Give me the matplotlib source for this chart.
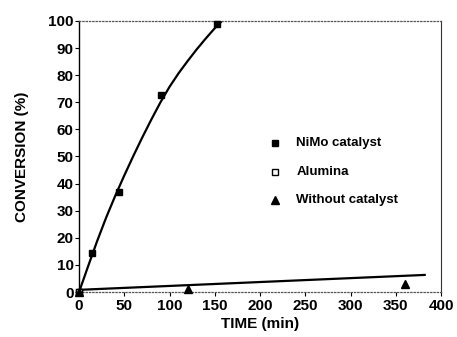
import matplotlib.pyplot as plt

plt.rcParams['font.family'] = ['Liberation Sans', 'DejaVu Sans']
plt.rcParams['font.weight'] = 'bold'

# measured conversions
nimo_t = [0, 14, 44, 91, 152]
nimo_conv = [0, 14.5, 37, 72.5, 99]
alumina_t = [0]
alumina_conv = [0]
blank_t = [0, 120, 360]
blank_conv = [0, 1, 3]

# hand-fitted trend lines
nimo_fit_t = [0, 10, 20, 30, 40, 50, 60, 70, 80, 90, 100, 110, 120, 130, 140, 150, 158]
nimo_fit_conv = [0, 9.5, 18.8, 27.5, 35.5, 43, 50.2, 57.1, 63.7, 70, 75.7, 80.7,
                 85.2, 89.5, 93.5, 97.3, 100]
blank_fit_t = [0, 382]
blank_fit_conv = [0.8, 6.3]

legend_labels = ['NiMo catalyst', 'Alumina', 'Without catalyst']

fig = plt.figure(figsize=(4.57, 3.37), dpi=100)
ax = fig.add_axes([0.173, 0.1335, 0.792, 0.8045])

ax.plot(nimo_fit_t, nimo_fit_conv, color='black', lw=1.6, zorder=2,
        solid_joinstyle='round')
ax.plot(blank_fit_t, blank_fit_conv, color='black', lw=1.6, zorder=2)
ax.plot(nimo_t, nimo_conv, 's', color='black', ms=5, zorder=3, clip_on=False)
ax.plot(alumina_t, alumina_conv, 's', mfc='white', mec='black', ms=5, zorder=3, clip_on=False)
ax.plot(blank_t, blank_conv, '^', color='black', ms=6, zorder=3, clip_on=False)

ax.set_xlim(0, 400)
ax.set_ylim(0, 100)
ax.set_xticks(range(0, 401, 50))
ax.set_yticks(range(0, 101, 10))
ax.tick_params(labelsize=11, length=3, width=0.8, pad=1)
ax.tick_params(axis='x', pad=2)

ax.set_xlabel('TIME (min)', fontsize=11, fontweight='bold', labelpad=3)
ax.set_ylabel('CONVERSION (%)', fontsize=11, fontweight='bold', labelpad=14)

ax.spines['left'].set_linewidth(1.0)
ax.spines['right'].set_linewidth(0.8)
ax.spines['right'].set_color('#333333')
for side in ('top', 'bottom'):
    ax.spines[side].set_linestyle(':')
    ax.spines[side].set_linewidth(0.9)
    ax.spines[side].set_color('#555555')

# legend drawn as markers and text in data coordinates
leg_y = [55, 44.3, 34]
ax.plot([217], [leg_y[0]], 's', color='black', ms=5)
ax.plot([217], [leg_y[1]], 's', mfc='white', mec='black', ms=5)
ax.plot([217], [leg_y[2]], '^', color='black', ms=6)
for y, label in zip(leg_y, legend_labels):
    ax.text(240, y, label, fontsize=9.5, fontweight='bold', va='center', ha='left')

fig.savefig('out.png', dpi=100)
